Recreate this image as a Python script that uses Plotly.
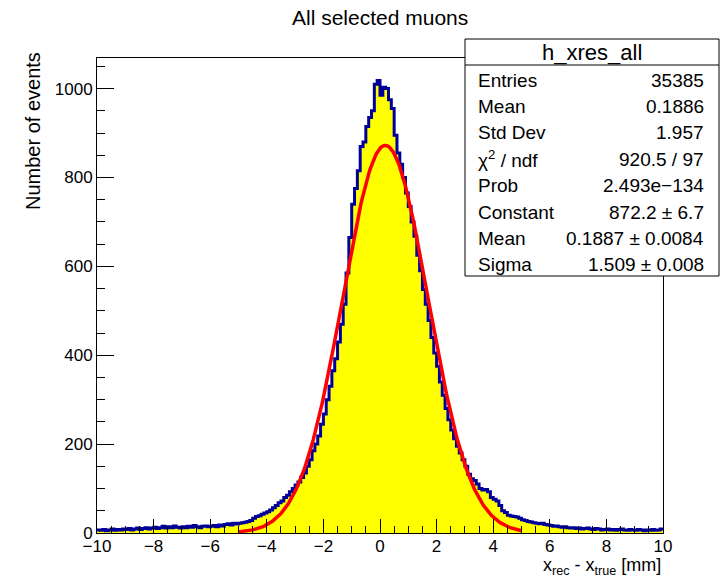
import numpy as np
import plotly.graph_objects as go

# ---------------- data ----------------
x_min, x_max, n_bins = -10.0, 10.0, 200
counts = [
    7, 6, 8, 5, 7, 9, 6, 8, 7, 9,
    8, 10, 7, 9, 11, 8, 10, 12, 9, 11,
    13, 10, 12, 15, 11, 14, 12, 16, 13, 11,
    14, 12, 15, 13, 17, 14, 12, 15, 16, 14,
    15, 17, 14, 18, 16, 19, 21, 18, 22, 20,
    22, 23, 24, 26, 28, 33, 37, 39, 42, 45,
    48, 52, 57, 62, 68, 72, 80, 85, 93, 100,
    108, 115, 125, 135, 150, 165, 185, 200, 218, 245,
    268, 300, 330, 365, 392, 430, 470, 515, 585, 665,
    740, 775, 815, 870, 880, 915, 935, 950, 1010, 1018,
    985, 1003, 1000, 975, 955, 895, 855, 830, 800, 765,
    735, 700, 668, 625, 590, 548, 515, 478, 440, 405,
    375, 340, 310, 280, 255, 232, 212, 195, 180, 165,
    150, 132, 122, 118, 110, 100, 97, 98, 93, 80,
    76, 72, 62, 50, 46, 40, 38, 37, 36, 33,
    30, 28, 26, 25, 23, 22, 21, 22, 19, 18,
    17, 15, 16, 14, 13, 14, 12, 11, 12, 10,
    11, 9, 10, 11, 9, 8, 10, 9, 7, 8,
    9, 7, 8, 6, 8, 9, 7, 6, 8, 7,
    6, 8, 7, 5, 7, 6, 8, 6, 7, 9,
]
# Gaussian fit parameters (from the stats box)
fit_constant, fit_mean, fit_sigma = 872.2, 0.1887, 1.509
fit_range = (-5.0, 5.0)

stats_title = "h_xres_all"
stats_labels = ["Entries", "Mean", "Std Dev", "χ<sup>2</sup> / ndf", "Prob",
                "Constant", "Mean", "Sigma"]
stats_values = ["35385", "0.1886", "1.957", "920.5 / 97", "2.493e\u2212134",
                "872.2 ± 6.7", "0.1887 ± 0.0084", "1.509 ± 0.008"]

title = "All selected muons"
x_title = "x<sub>rec</sub> - x<sub>true</sub> [mm]"
y_title = "Number of events"

# ---------------- figure ----------------
FONT = "Liberation Sans, Arial, Helvetica, sans-serif"
W, H = 726, 578
L, R, T, B = 97, 63, 58, 45
pw, ph = W - L - R, H - T - B

edges = np.linspace(x_min, x_max, n_bins + 1)
y_step = list(counts) + [counts[-1]]

fig = go.Figure()
fig.add_trace(go.Scatter(
    x=edges, y=y_step, mode="lines", line=dict(shape="hv", color="#000099", width=3),
    fill="tozeroy", fillcolor="#ffff00", hoverinfo="skip", showlegend=False))

xf = np.linspace(fit_range[0], fit_range[1], 300)
yf = fit_constant * np.exp(-0.5 * ((xf - fit_mean) / fit_sigma) ** 2)
fig.add_trace(go.Scatter(x=xf, y=yf, mode="lines",
                         line=dict(color="#ff0000", width=3.5),
                         hoverinfo="skip", showlegend=False))

ymax = 1.05 * max(counts)

def px(xp):
    return (xp - L) / pw

def py(yp):
    return (H - B - yp) / ph

fig.update_layout(
    width=W, height=H, margin=dict(l=L, r=R, t=T, b=B),
    paper_bgcolor="white", plot_bgcolor="white",
    font=dict(family=FONT, size=17, color="black"),
    xaxis=dict(range=[x_min, x_max], showgrid=False, zeroline=False,
               showline=True, linecolor="black", linewidth=1, mirror=True,
               ticks="inside", ticklen=14, tickcolor="black", tick0=-10, dtick=2,
               minor=dict(ticks="inside", ticklen=7, dtick=0.5, tickcolor="black"),
               tickfont=dict(size=17), ticklabelstandoff=-2),
    yaxis=dict(range=[0, ymax], showgrid=False, zeroline=False,
               showline=True, linecolor="black", linewidth=1, mirror=True,
               ticks="inside", ticklen=17, tickcolor="black", tick0=0, dtick=200,
               minor=dict(ticks="inside", ticklen=8, dtick=50, tickcolor="black"),
               tickfont=dict(size=17)),
)

annotations = [
    dict(text=title, x=px(380), y=py(18), xref="paper", yref="paper",
         xanchor="center", yanchor="middle", showarrow=False, font=dict(size=21)),
    dict(text=x_title, x=1.0, y=py(566), xref="paper", yref="paper",
         xanchor="right", yanchor="middle", showarrow=False, font=dict(size=18)),
    dict(text=y_title, x=px(33), y=py(50), xref="paper", yref="paper",
         xanchor="center", yanchor="top", textangle=-90, showarrow=False,
         font=dict(size=20)),
]

# stats box
bx0, bx1, by0, by1, bsep = 465, 719, 39, 276, 65
shapes = [
    dict(type="rect", xref="paper", yref="paper", x0=px(bx0), x1=px(bx1),
         y0=py(by1), y1=py(by0), line=dict(color="black", width=1),
         fillcolor="white", layer="above"),
    dict(type="line", xref="paper", yref="paper", x0=px(bx0), x1=px(bx1),
         y0=py(bsep), y1=py(bsep), line=dict(color="black", width=1), layer="above"),
]
annotations.append(dict(text=stats_title, x=px((bx0 + bx1) / 2), y=py(52),
                        xref="paper", yref="paper", xanchor="center", yanchor="middle",
                        showarrow=False, font=dict(size=22)))
row_h = (by1 - bsep) / len(stats_labels)
for k, (lab, val) in enumerate(zip(stats_labels, stats_values)):
    yc = bsep + 2 + row_h * (k + 0.5)
    annotations.append(dict(text=lab, x=px(476), y=py(yc), xref="paper", yref="paper",
                            xanchor="left", yanchor="middle", showarrow=False,
                            font=dict(size=19)))
    annotations.append(dict(text=val, x=px(706), y=py(yc), xref="paper", yref="paper",
                            xanchor="right", yanchor="middle", showarrow=False,
                            font=dict(size=19)))

fig.update_layout(annotations=annotations, shapes=shapes)
fig.write_html("out.html")
